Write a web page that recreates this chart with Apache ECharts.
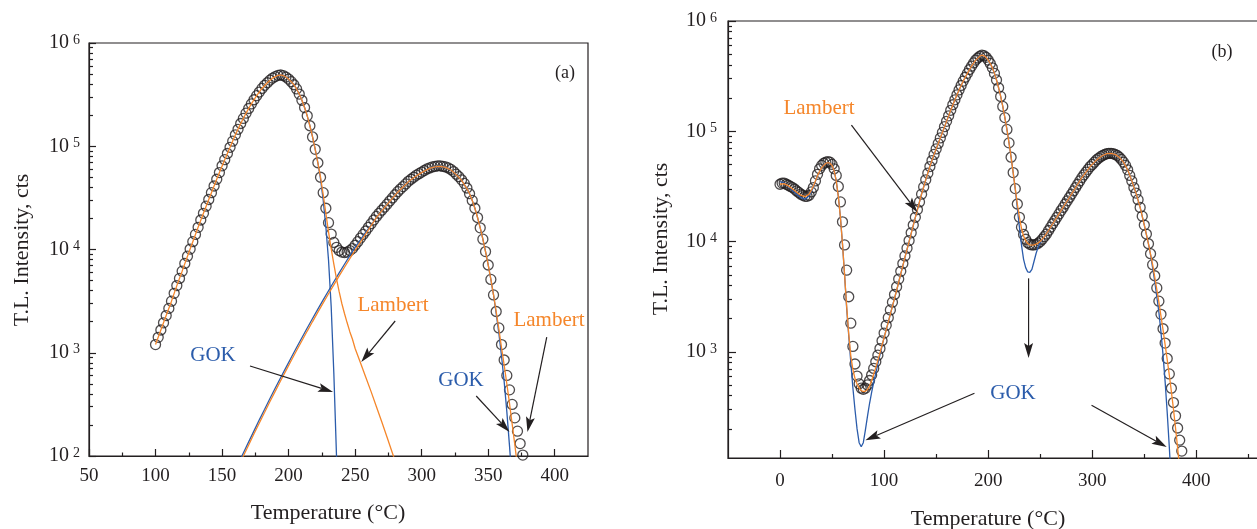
<!DOCTYPE html>
<html><head><meta charset="utf-8">
<script src="https://cdn.jsdelivr.net/npm/echarts@6/dist/echarts.min.js"></script>
<style>html,body{margin:0;padding:0;background:#fff;}#c{width:1257px;height:529px;}</style>
</head><body><div id="c"></div>
<script>
// ================= DATA =================
// Panel (a): measured glow curve (circles), temperature in °C, intensity in counts
const tempA = [100,102,104,106,108,110,112,114,116,118,120,122,124,126,128,130,132,134,136,138,140,142,144,146,148,150,152,154,156,158,160,162,164,166,168,170,172,174,176,178,180,182,184,186,188,190,192,194,196,198,200,202,204,206,208,210,212,214,216,218,220,222,224,226,228,230,232,234,236,238,240,242,244,246,248,250,252,254,256,258,260,262,264,266,268,270,272,274,276,278,280,282,284,286,288,290,292,294,296,298,300,302,304,306,308,310,312,314,316,318,320,322,324,326,328,330,332,334,336,338,340,342,344,346,348,350,352,354,356,358,360,362,364,366,368,370,372,374,376];
const tlA = [1200,1410,1660,1950,2290,2690,3160,3760,4470,5250,6170,7330,8610,10100,11900,14000,16400,19300,22400,26300,30500,35500,41200,47900,55600,64600,74100,85100,97700,112000,129000,146000,166000,186000,209000,232000,257000,282000,309000,335000,363000,389000,412000,437000,457000,473000,486000,490000,484000,468000,447000,422000,394000,359000,320000,279000,237000,197000,158000,123000,93300,69200,50100,35500,25100,18200,14100,11700,10500,9770,9440,9330,9440,9770,10200,11000,11900,12900,14000,15100,16400,17800,19300,20900,22400,24000,25700,27500,29500,31600,33900,36300,38500,40700,43200,45700,47900,50100,52500,54300,56200,58200,60300,61700,63100,63800,64600,64600,63800,63100,61700,59600,56900,53700,50700,47300,43700,39400,34700,29900,25100,20400,16200,12600,9550,7080,5130,3630,2510,1740,1200,851,603,437,316,234,174,132,102];
// Panel (a): fitted components [T, counts]
const lambert1A = [[100,1200],[104,1660],[108,2290],[112,3160],[116,4470],[120,6170],[124,8610],[128,11900],[132,16400],[136,22400],[140,30500],[144,41200],[148,55600],[152,74100],[156,97700],[160,129000],[164,166000],[168,209000],[172,257000],[176,309000],[180,363000],[184,412000],[188,457000],[190,473000],[192,486000],[194,490000],[196,484000],[198,468000],[200,447000],[202,422000],[204,394000],[206,359000],[208,320000],[210,279000],[212,237000],[214,197000],[216,158000],[218,123000],[220,93300],[222,69200],[224,50100],[226,34000],[228,22400],[230,14800],[232,10200],[234,7200],[236,5200],[238,3900],[240,3000],[242,2400],[244,1950],[246,1600],[248,1350],[250,1100],[254,800],[258,580],[262,420],[266,300],[270,215],[274,152],[278,107],[282,75]];
const gok1A = [[190,473000],[192,486000],[194,490000],[196,484000],[198,468000],[200,447000],[202,422000],[204,394000],[206,359000],[208,320000],[210,279000],[212,237000],[214,197000],[216,158000],[218,123000],[220,93300],[222,69200],[224,48000],[226,30000],[228,16600],[230,7900],[232,2800],[234,630],[236,100],[238,12]];
const lambert2A = [[160,69],[166,100],[170,128],[174,164],[178,209],[182,265],[186,337],[190,425],[194,535],[198,671],[202,841],[206,1050],[210,1306],[214,1622],[218,2005],[222,2472],[226,3041],[230,3724],[234,4550],[238,5546],[242,6730],[246,8150],[250,9840],[254,11800],[258,14200],[262,17000],[266,20400],[270,23700],[274,27200],[278,31300],[282,35900],[286,40300],[290,45200],[294,49500],[298,53700],[302,57500],[306,61000],[310,63100],[314,63800],[318,62400],[322,58900],[326,53100],[330,46800],[334,38900],[336,34700],[338,29900],[340,25100],[342,20400],[344,16200],[346,12600],[348,9550],[350,7080],[352,5130],[354,3630],[356,2510],[358,1700],[360,1120],[362,759],[364,501],[366,324],[368,204],[370,129],[372,79]];
const gok2A = [[160,74],[166,107],[170,137],[174,175],[178,224],[182,284],[186,361],[190,455],[194,572],[198,718],[202,900],[206,1124],[210,1397],[214,1736],[218,2145],[222,2645],[226,3254],[230,3985],[234,4869],[238,5934],[242,7200],[246,8720],[250,10500],[254,12400],[258,14700],[262,17200],[266,20400],[270,23700],[274,27200],[278,31300],[282,35900],[286,40300],[290,45200],[294,49500],[298,53700],[302,57500],[306,61000],[310,63100],[314,63800],[318,62400],[322,58900],[326,53100],[330,46800],[334,38900],[336,34700],[338,29900],[340,25100],[342,20400],[344,16200],[346,12600],[348,9550],[350,7080],[352,5130],[354,3630],[356,2400],[358,1550],[360,933],[362,525],[364,269],[366,126],[368,56]];

// Panel (b): measured glow curve
const tempB = [0,2,4,6,8,10,12,14,16,18,20,22,24,26,28,30,32,34,36,38,40,42,44,46,48,50,52,54,56,58,60,62,64,66,68,70,72,74,76,78,80,82,84,86,88,90,92,94,96,98,100,102,104,106,108,110,112,114,116,118,120,122,124,126,128,130,132,134,136,138,140,142,144,146,148,150,152,154,156,158,160,162,164,166,168,170,172,174,176,178,180,182,184,186,188,190,192,194,196,198,200,202,204,206,208,210,212,214,216,218,220,222,224,226,228,230,232,234,236,238,240,242,244,246,248,250,252,254,256,258,260,262,264,266,268,270,272,274,276,278,280,282,284,286,288,290,292,294,296,298,300,302,304,306,308,310,312,314,316,318,320,322,324,326,328,330,332,334,336,338,340,342,344,346,348,350,352,354,356,358,360,362,364,366,368,370,372,374,376,378,380,382,384,386,388];
const tlB = [33100,33900,33900,33100,32400,31600,30900,29900,28800,27900,26900,26300,25700,25700,26300,28200,30900,35500,40700,45700,49000,51300,52500,53100,52500,50100,45700,39800,31600,22900,15100,9330,5500,3160,1820,1120,776,603,513,468,457,468,501,550,617,708,813,933,1070,1260,1480,1740,2040,2400,2820,3310,3890,4570,5370,6310,7410,8710,10200,12000,14100,16600,19500,22900,26900,31300,36300,41700,47900,54300,61700,69200,77600,87100,97700,110000,123000,138000,155000,174000,193000,214000,237000,260000,285000,309000,335000,363000,389000,417000,442000,462000,479000,490000,484000,468000,442000,412000,376000,335000,292000,248000,207000,168000,133000,104000,78500,58200,42200,30200,21900,16600,13500,11600,10500,9770,9440,9330,9330,9440,9660,10000,10500,11100,11700,12600,13500,14500,15500,16600,17800,19100,20400,21900,23400,25100,26900,28800,30900,33100,35500,38000,40300,42700,45200,47900,50100,52500,55000,56900,58900,60300,61700,62700,63100,63100,62700,61700,60300,58200,55600,52500,49000,44700,39800,35500,30900,27500,24000,20400,17000,14100,11700,9550,7760,6170,4900,3800,2880,2190,1620,1200,871,631,468,347,263,204,158,126,102];
// Panel (b): fits [T, counts]
const lambertB = [[0,33100],[4,33500],[8,32000],[12,30000],[16,28000],[20,26300],[24,25500],[28,26900],[32,31600],[36,39800],[40,46800],[44,51300],[46,52000],[48,51300],[50,49000],[52,43700],[54,35500],[56,25700],[58,16600],[60,9500],[62,5000],[64,2600],[66,1450],[68,920],[70,690],[72,575],[74,510],[76,470],[78,445],[80,437],[82,440],[84,455],[86,490],[88,550],[90,630],[92,720],[96,980],[100,1350],[104,1860],[108,2600],[112,3600],[116,5100],[120,7200],[124,10000],[128,14000],[132,19500],[136,27000],[140,36300],[144,47900],[148,61700],[152,77600],[156,97700],[160,123000],[164,155000],[168,193000],[172,237000],[176,285000],[180,335000],[184,389000],[188,442000],[192,479000],[194,490000],[196,484000],[198,468000],[200,442000],[202,412000],[204,376000],[206,335000],[208,292000],[210,248000],[212,207000],[214,168000],[216,133000],[218,104000],[220,78500],[222,58200],[224,42200],[226,30200],[228,21900],[230,16600],[232,13200],[234,11200],[236,10200],[238,9600],[240,9350],[242,9300],[244,9350],[246,9500],[248,9700],[250,10000],[254,11100],[258,12600],[262,14500],[266,16600],[270,19100],[274,21900],[278,25100],[282,28800],[286,33100],[290,38000],[294,42700],[298,47900],[302,52500],[306,56900],[310,60300],[314,62700],[318,63100],[322,61700],[326,58200],[330,52500],[334,44700],[338,35500],[342,27500],[346,20400],[350,14100],[354,9550],[358,6170],[360,4790],[364,2820],[368,1580],[372,851],[374,617],[376,437],[378,302],[380,204],[382,135],[384,87]];
const gokB = [[0,35000],[4,34000],[8,31500],[12,29000],[16,26800],[20,25000],[24,24200],[28,26000],[32,31000],[36,39500],[40,46800],[44,51300],[46,52000],[48,51300],[50,49000],[52,43700],[54,35500],[56,25700],[58,16600],[60,9500],[62,5000],[64,2500],[66,1400],[68,800],[70,470],[72,300],[74,200],[76,150],[78,138],[80,150],[82,195],[84,260],[86,340],[88,430],[90,530],[92,640],[96,940],[100,1350],[104,1860],[108,2600],[112,3600],[116,5100],[120,7200],[124,10000],[128,14000],[132,19500],[136,27000],[140,36300],[144,47900],[148,61700],[152,77600],[156,97700],[160,123000],[164,155000],[168,193000],[172,237000],[176,285000],[180,335000],[184,389000],[188,442000],[192,479000],[194,490000],[196,484000],[198,468000],[200,442000],[202,412000],[204,376000],[206,335000],[208,292000],[210,248000],[212,207000],[214,168000],[216,133000],[218,104000],[220,78500],[222,58200],[224,42200],[226,30000],[228,20000],[230,13500],[232,9300],[234,6900],[236,5800],[238,5300],[240,5250],[242,5600],[244,6600],[246,7800],[248,8900],[250,9800],[254,11100],[258,12600],[262,14500],[266,16600],[270,19100],[274,21900],[278,25100],[282,28800],[286,33100],[290,38000],[294,42700],[298,47900],[302,52500],[306,56900],[310,60300],[314,62700],[318,63100],[322,61700],[326,58200],[330,52500],[334,44700],[338,35500],[342,27500],[346,20400],[350,14100],[354,9550],[356,7590],[360,4370],[364,2290],[366,1510],[368,933],[370,537],[372,282],[374,138],[376,63]];

// Ticks
const xTicksA = [50,100,150,200,250,300,350,400];
const xMinorA = [75,125,175,225,275,325,375];
const yTicksA = [100,1000,10000,100000,1000000];
const yMinorA = [200,300,400,500,600,700,800,900,2000,3000,4000,5000,6000,7000,8000,9000,20000,30000,40000,50000,60000,70000,80000,90000,200000,300000,400000,500000,600000,700000,800000,900000];
const xTicksB = [0,100,200,300,400];
const xMinorB = [50,150,250,350,450];
const yTicksB = [1000,10000,100000,1000000];
const yMinorB = [200,300,400,500,600,700,800,900,2000,3000,4000,5000,6000,7000,8000,9000,20000,30000,40000,50000,60000,70000,80000,90000,200000,300000,400000,500000,600000,700000,800000,900000];

// Annotation arrows in data coordinates: [from, to]
const arrowsA = [[[171,745],[233.4,417]],[[280.1,2030],[254.6,813]],[[341,381],[366,171]],[[394,1420],[379.5,171]]];
const arrowsB = [[[68.6,113500],[132,18450]],[[186.8,421],[82,158]],[[299.3,328],[371.5,137]],[[238.8,4640],[238.8,878]]];

// ================= CHART =================
const FONT = '"Liberation Serif","Times New Roman",serif';
const INK = '#231f20';
const ORANGE = '#f5862a';
const BLUE = '#2b5cab';
const chart = echarts.init(document.getElementById('c'), null, {renderer:'canvas', width:1257, height:529});

function pairs(xs, ys){ return xs.map((x,i)=>[x, ys[i]]); }
const rich = {b:{fontSize:20,fontFamily:FONT,color:INK}, s:{fontSize:14,fontFamily:FONT,color:INK,verticalAlign:'top',padding:[0,0,0,4]}};
function powLabel(v){ return '{b|10}{s|' + Math.round(Math.log10(v)) + '}'; }

function xMain(g,min,max,ticks,len,margin){
  return {gridIndex:g,type:'value',min,max,position:'bottom',
    axisLine:{show:true,onZero:false,lineStyle:{color:INK,width:1.2}},
    axisTick:{show:true,inside:true,length:len,customValues:ticks,lineStyle:{color:INK,width:1.2}},
    axisLabel:{show:true,customValues:ticks,margin,color:INK,fontFamily:FONT,fontSize:19},
    splitLine:{show:false},minorTick:{show:false}};
}
function xMin(g,min,max,ticks,len){
  return {gridIndex:g,type:'value',min,max,position:'bottom',offset:0,
    axisLine:{show:false,onZero:false},
    axisTick:{show:true,inside:true,length:len,customValues:ticks,lineStyle:{color:INK,width:1.2}},
    axisLabel:{show:false},splitLine:{show:false}};
}
function yMain(g,min,max,ticks,len,margin){
  return {gridIndex:g,type:'log',logBase:10,min,max,position:'left',
    axisLine:{show:true,onZero:false,lineStyle:{color:INK,width:1.2}},
    axisTick:{show:true,inside:true,length:len,customValues:ticks,lineStyle:{color:INK,width:1.2}},
    axisLabel:{show:true,customValues:ticks,margin,formatter:powLabel,rich},
    splitLine:{show:false}};
}
function yMin(g,min,max,ticks,len){
  return {gridIndex:g,type:'log',logBase:10,min,max,position:'left',offset:0,
    axisLine:{show:false,onZero:false},
    axisTick:{show:true,inside:true,length:len,customValues:ticks,lineStyle:{color:INK,width:1.2}},
    axisLabel:{show:false},splitLine:{show:false}};
}
function lineS(xi,yi,data,color,z){
  return {type:'line',xAxisIndex:xi,yAxisIndex:yi,data,symbol:'none',showSymbol:false,clip:true,
    lineStyle:{color,width:1.3},z,silent:true};
}
function scat(xi,yi,data){
  return {type:'scatter',xAxisIndex:xi,yAxisIndex:yi,data,symbol:'circle',symbolSize:10,clip:true,
    itemStyle:{color:'rgba(0,0,0,0)',borderColor:INK,borderWidth:1.3},z:2,silent:true};
}
function txt(x,y,text,color,size,rot){
  return {type:'text',x,y,rotation:rot||0,z:50,style:{text,fill:color,fontFamily:FONT,fontSize:size,align:'center',verticalAlign:'middle'}};
}

const option = {
  animation:false,
  backgroundColor:'#fff',
  grid:[
    {left:89,top:43,width:499,height:413,show:true,borderColor:INK,borderWidth:1.2,backgroundColor:'rgba(0,0,0,0)',containLabel:false,outerBoundsMode:'none'},
    {left:728,top:21,width:536,height:437,show:true,borderColor:INK,borderWidth:1.2,backgroundColor:'rgba(0,0,0,0)',containLabel:false,outerBoundsMode:'none'}
  ],
  xAxis:[
    xMain(0,50,425,xTicksA,7,11),
    xMin(0,50,425,xMinorA,3.5),
    xMain(1,-50,465,xTicksB,8,14),
    xMin(1,-50,465,xMinorB,4)
  ],
  yAxis:[
    yMain(0,100,1000000,yTicksA,7,9),
    yMin(0,100,1000000,yMinorA,4),
    yMain(1,109,1000000,yTicksB,8,11),
    yMin(1,109,1000000,yMinorB,4)
  ],
  series:[
    scat(0,0,pairs(tempA,tlA)),
    lineS(0,0,gok1A,BLUE,3),
    lineS(0,0,gok2A,BLUE,3),
    lineS(0,0,lambert1A,ORANGE,4),
    lineS(0,0,lambert2A,ORANGE,4),
    scat(2,2,pairs(tempB,tlB)),
    lineS(2,2,gokB,BLUE,3),
    lineS(2,2,lambertB,ORANGE,4)
  ],
  graphic:[
    txt(22,250,'T.L. Intensity, cts',INK,22,Math.PI/2),
    txt(661,239,'T.L. Intensity, cts',INK,22,Math.PI/2),
    txt(328,513,'Temperature (°C)',INK,22),
    txt(988,519,'Temperature (°C)',INK,22),
    txt(565,73,'(a)',INK,18),
    txt(1222,52,'(b)',INK,18),
    txt(393,305,'Lambert',ORANGE,21),
    txt(213,355,'GOK',BLUE,21),
    txt(461,380,'GOK',BLUE,21),
    txt(549,320,'Lambert',ORANGE,21),
    txt(819,108,'Lambert',ORANGE,21),
    txt(1013,393,'GOK',BLUE,21)
  ]
};
chart.setOption(option);

function arrowEls(p1,p2){
  const dx=p2[0]-p1[0], dy=p2[1]-p1[1], L=Math.hypot(dx,dy);
  const ux=dx/L, uy=dy/L, nx=-uy, ny=ux;
  const hl=15, hw=4.5, notch=3;
  const bx=p2[0]-ux*hl, by=p2[1]-uy*hl;
  const mx=bx+ux*notch, my=by+uy*notch;
  return [
    {type:'line',z:40,shape:{x1:p1[0],y1:p1[1],x2:mx,y2:my},style:{stroke:INK,lineWidth:1.2}},
    {type:'polygon',z:40,shape:{points:[[p2[0],p2[1]],[bx+nx*hw,by+ny*hw],[mx,my],[bx-nx*hw,by-ny*hw]]},style:{fill:INK}}
  ];
}
const extra = [];
arrowsA.forEach(a=>{
  const p1=chart.convertToPixel({xAxisIndex:0,yAxisIndex:0},a[0]);
  const p2=chart.convertToPixel({xAxisIndex:0,yAxisIndex:0},a[1]);
  extra.push(...arrowEls(p1,p2));
});
arrowsB.forEach(a=>{
  const p1=chart.convertToPixel({xAxisIndex:2,yAxisIndex:2},a[0]);
  const p2=chart.convertToPixel({xAxisIndex:2,yAxisIndex:2},a[1]);
  extra.push(...arrowEls(p1,p2));
});
chart.setOption({graphic: option.graphic.concat(extra)});
</script>
</body></html>
